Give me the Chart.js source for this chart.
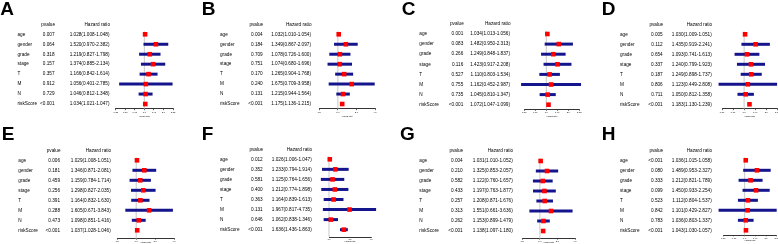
<!DOCTYPE html>
<html><head><meta charset="utf-8">
<script src="https://cdn.jsdelivr.net/npm/chart.js@4"></script>
<style>
html,body{margin:0;padding:0;background:#fff;width:778px;height:244px;overflow:hidden;position:relative}
canvas{position:absolute}
</style></head><body>
<script>
// ---------- DATA ----------
const categories = ['age','gender','grade','stage','T','M','N','riskScore'];

const A_p  = ['0.007','0.064','0.318','0.157','0.357','0.912','0.729','<0.001'];
const A_hr = [1.028,1.520,1.219,1.374,1.166,1.056,1.046,1.034];
const A_lo = [1.008,0.970,0.827,0.885,0.842,0.401,0.812,1.021];
const A_hi = [1.048,2.382,1.798,2.134,1.614,2.785,1.348,1.047];

const B_p  = ['0.004','0.184','0.709','0.751','0.170','0.240','0.131','<0.001'];
const B_hr = [1.032,1.349,1.078,1.074,1.265,1.675,1.215,1.175];
const B_lo = [1.010,0.867,0.726,0.680,0.904,0.709,0.944,1.136];
const B_hi = [1.054,2.097,1.600,1.696,1.768,3.958,1.564,1.215];

const C_p  = ['0.001','0.083','0.266','0.116','0.527','0.755','0.735','<0.001'];
const C_hr = [1.034,1.482,1.249,1.423,1.110,1.162,1.045,1.072];
const C_lo = [1.013,0.950,0.848,0.917,0.803,0.452,0.810,1.047];
const C_hi = [1.056,2.313,1.837,2.208,1.534,2.987,1.347,1.099];

const D_p  = ['0.005','0.112','0.654','0.337','0.187','0.806','0.711','<0.001'];
const D_hr = [1.030,1.435,1.093,1.240,1.249,1.123,1.050,1.183];
const D_lo = [1.009,0.919,0.741,0.799,0.898,0.449,0.812,1.130];
const D_hi = [1.051,2.241,1.613,1.923,1.737,2.808,1.358,1.239];

const E_p  = ['0.006','0.181','0.459','0.256','0.391','0.288','0.473','<0.001'];
const E_hr = [1.029,1.346,1.159,1.298,1.164,1.605,1.098,1.037];
const E_lo = [1.008,0.871,0.784,0.827,0.832,0.671,0.851,1.028];
const E_hi = [1.051,2.081,1.714,2.035,1.630,3.843,1.416,1.046];

const F_p  = ['0.012','0.352','0.581','0.400','0.363','0.131','0.646','<0.001'];
const F_hr = [1.026,1.233,1.125,1.212,1.164,1.967,1.062,1.636];
const F_lo = [1.006,0.794,0.764,0.774,0.839,0.817,0.838,1.436];
const F_hi = [1.047,1.914,1.656,1.898,1.613,4.735,1.346,1.863];

const G_p  = ['0.004','0.210','0.582','0.433','0.257','0.313','0.262','<0.001'];
const G_hr = [1.031,1.325,1.122,1.197,1.208,1.551,1.153,1.138];
const G_lo = [1.010,0.853,0.760,0.763,0.871,0.661,0.899,1.097];
const G_hi = [1.052,2.057,1.657,1.877,1.676,3.636,1.479,1.180];

const H_p  = ['<0.001','0.080','0.333','0.099','0.523','0.842','0.783','<0.001'];
const H_hr = [1.036,1.489,1.212,1.450,1.112,1.101,1.036,1.043];
const H_lo = [1.015,0.953,0.821,0.933,0.804,0.429,0.803,1.030];
const H_hi = [1.058,2.327,1.789,2.254,1.537,2.827,1.337,1.057];

// tick values and labels
const ticks7 = [0.354,0.5,0.707,1,1.414,2,2.828];
const labels7 = ['0.35','0.50','0.71','1.0','1.41','2.0','2.83'];
const ticks6 = [0.5,0.707,1,1.414,2,2.828];
const labels6 = ['0.50','0.71','1.0','1.41','2.0','2.83'];
const ticks4 = [0.5,1,2,4];
const labels4 = ['0.5','1.0','2.0','4.0'];
const ticks3 = [1,2,4];
const labels3 = ['1.0','2.0','4.0'];

// ---------- LAYOUT (positions only) ----------
const layoutTop = {letterY:15, tickLen:1.5};
const layoutBot = {letterY:18.3, tickLen:1};
const panels = [
 {id:'A', p:A_p, hr:A_hr, lo:A_lo, hi:A_hi, tv:ticks7, tl:labels7, L:{...layoutTop, ox:0,   oy:0,   letterX:0.3,  nameX:17.5, pR:54.5, hrR:109.5, rowTop:34.3, step:9.96, axisY:108.7, axL:115.7, axR:173,   titleY:116}},
 {id:'B', p:B_p, hr:B_hr, lo:B_lo, hi:B_hi, tv:ticks4, tl:labels4, L:{...layoutTop, ox:195, oy:0,   letterX:6.7,  nameX:25,   pR:67.7, hrR:116,   rowTop:34.3, step:9.96, axisY:108.7, axL:124.3, axR:180,   titleY:116}},
 {id:'C', p:C_p, hr:C_hr, lo:C_lo, hi:C_hi, tv:ticks6, tl:labels6, L:{...layoutTop, ox:390, oy:0,   letterX:11.7, nameX:29.3, pR:73.3, hrR:120,   rowTop:34,   step:10.1, axisY:109.3, axL:134.3, axR:189.3, titleY:116.5}},
 {id:'D', p:D_p, hr:D_hr, lo:D_lo, hi:D_hi, tv:ticks6, tl:labels6, L:{...layoutTop, ox:585, oy:0,   letterX:16.7, nameX:35,   pR:77.7, hrR:126.7, rowTop:34.3, step:10,   axisY:108.7, axL:137,   axR:192.3, titleY:116}},
 {id:'E', p:E_p, hr:E_hr, lo:E_lo, hi:E_hi, tv:ticks4, tl:labels4, L:{...layoutBot, ox:0,   oy:122, letterX:1.7,  nameX:18.3, pR:60,   hrR:110.7, rowTop:38.3, step:10,   axisY:116.7, axL:117.3, axR:174,   titleY:120.3}},
 {id:'F', p:F_p, hr:F_hr, lo:F_lo, hi:F_hi, tv:ticks3, tl:labels3, L:{...layoutBot, ox:195, oy:122, letterX:6.7,  nameX:25,   pR:67.7, hrR:116.7, rowTop:37.3, step:10.05,axisY:115,   axL:134,   axR:176,   titleY:119.3}},
 {id:'G', p:G_p, hr:G_hr, lo:G_lo, hi:G_hi, tv:ticks4, tl:labels4, L:{...layoutBot, ox:390, oy:122, letterX:10,   nameX:29.3, pR:72.7, hrR:122.7, rowTop:39,   step:10,   axisY:116.7, axL:132.3, axR:185,   titleY:120.3}},
 {id:'H', p:H_p, hr:H_hr, lo:H_lo, hi:H_hi, tv:ticks6, tl:labels6, L:{...layoutBot, ox:585, oy:122, letterX:16.7, nameX:35,   pR:77.7, hrR:126.7, rowTop:38.3, step:10,   axisY:113.3, axL:138.3, axR:191.7, titleY:118.3}},
];

const FONT = '"Liberation Sans", Arial, Helvetica, sans-serif';
const RED = '#ff0000';
const BLUE = '#14148c';
const CW = 200, CH = 122;

const fmt = v => v.toFixed(3);

const tablePlugin = {
  id: 'forestTable',
  beforeDatasetsDraw(chart) {
    const {ctx, chartArea, scales: {x}} = chart;
    const px = x.getPixelForValue(1);
    ctx.save();
    ctx.strokeStyle = '#c8c8c8';
    ctx.lineWidth = 1;
    ctx.beginPath();
    ctx.moveTo(px, chartArea.top + 2);
    ctx.lineTo(px, chartArea.bottom);
    ctx.stroke();
    ctx.restore();
  },
  afterDraw(chart) {
    const P = chart.options.plugins.forestTable.panel;
    const L = P.L;
    const {ctx, scales: {y}} = chart;
    ctx.save();
    ctx.fillStyle = '#000';
    ctx.textBaseline = 'alphabetic';
    ctx.textAlign = 'left';
    ctx.font = 'bold 19px ' + FONT;
    ctx.fillText(P.id, L.letterX, L.letterY);
    ctx.font = '4.7px ' + FONT;
    ctx.textBaseline = 'middle';
    const hy = y.getPixelForValue(-1);
    ctx.textAlign = 'right';
    ctx.fillText('pvalue', L.pR + 0.5, hy);
    ctx.fillText('Hazard ratio', L.hrR + 0.5, hy);
    categories.forEach((c, i) => {
      const yy = y.getPixelForValue(i);
      ctx.textAlign = 'left';
      ctx.fillText(c, L.nameX, yy);
      ctx.textAlign = 'right';
      ctx.fillText(P.p[i], L.pR, yy);
      ctx.fillText(fmt(P.hr[i]) + '(' + fmt(P.lo[i]) + '-' + fmt(P.hi[i]) + ')', L.hrR, yy);
    });
    ctx.restore();
  }
};

panels.forEach(P => {
  const L = P.L;
  const cv = document.createElement('canvas');
  cv.width = CW; cv.height = CH;
  cv.style.left = L.ox + 'px'; cv.style.top = L.oy + 'px';
  cv.style.width = CW + 'px'; cv.style.height = CH + 'px';
  document.body.appendChild(cv);
  const xh = L.titleY + 1.2 - L.axisY;
  const ciSets = categories.map((c, i) => ({
    type: 'line', showLine: true,
    data: [{x: P.lo[i], y: i}, {x: P.hi[i], y: i}],
    borderColor: BLUE, borderWidth: 3, pointRadius: 0, clip: false,
    borderCapStyle: 'butt'
  }));
  const ptSet = {
    type: 'scatter',
    data: P.hr.map((v, i) => ({x: v, y: i})),
    pointStyle: 'rect', pointRadius: 3.25, backgroundColor: RED,
    borderWidth: 0, clip: false
  };
  new Chart(cv, {
    type: 'scatter',
    data: {datasets: [ptSet, ...ciSets]},
    options: {
      responsive: false, animation: false, devicePixelRatio: 1,
      events: [],
      layout: {padding: {left: L.axL, right: CW - L.axR, top: L.rowTop - L.step / 2, bottom: CH - L.axisY - xh}},
      scales: {
        x: {
          type: 'logarithmic',
          min: P.tv[0], max: P.tv[P.tv.length - 1],
          afterBuildTicks: s => { s.ticks = P.tv.map(v => ({value: v})); },
          afterFit: s => { s.height = xh; },
          ticks: {
            callback: (v, i) => P.tl[i],
            autoSkip: false, maxRotation: 0, minRotation: 0,
            font: {size: 2.3, family: FONT}, color: '#000', padding: 0.3
          },
          grid: {drawOnChartArea: false, drawTicks: true, tickLength: L.tickLen, color: '#000', lineWidth: 0.6},
          border: {display: true, color: '#000', width: 0.8},
          title: {display: true, text: 'Hazard ratio', font: {size: 2, family: FONT}, color: '#000', padding: 0}
        },
        y: {
          type: 'linear', reverse: true, display: false,
          min: -0.5, max: (L.axisY - L.rowTop) / L.step
        }
      },
      plugins: {legend: {display: false}, tooltip: {enabled: false}, forestTable: {panel: P}}
    },
    plugins: [tablePlugin]
  });
});
</script>
</body></html>
